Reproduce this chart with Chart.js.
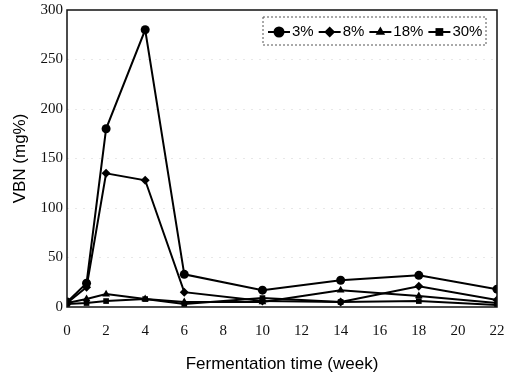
<!DOCTYPE html>
<html>
<head>
<meta charset="utf-8">
<script src="https://cdn.jsdelivr.net/npm/chart.js@4"></script>
<style>
  html, body { margin: 0; padding: 0; background: #fff; }
  #wrap { width: 508px; height: 379px; }
</style>
</head>
<body>
<div id="wrap"><canvas id="vbnChart" width="508" height="379"></canvas></div>
<script>
// weeks of fermentation
const weeks = [0, 1, 2, 4, 6, 10, 14, 18, 22];
// VBN (mg%) per salt level
const salt3 = [5, 24, 180, 280, 33, 17, 27, 32, 18];
const salt8 = [4, 20, 135, 128, 15, 6, 5, 21, 7];
const salt18 = [4, 8, 13, 8, 5, 5, 17, 11, 4];
const salt30 = [3, 4, 6, 8, 3, 9, 5, 6, 2];
const seriesNames = ["3%", "8%", "18%", "30%"];
const xTicks = [0, 2, 4, 6, 8, 10, 12, 14, 16, 18, 20, 22];
const yTicks = [0, 50, 100, 150, 200, 250, 300];

const estilos = ["circle", "rectRot", "triangle", "rect"];
const tamanhos = [4.5, 4.5, 4.5, 4];

function serie(valores, i) {
  return {
    label: seriesNames[i],
    data: weeks.map((w, k) => ({ x: w, y: valores[k] })),
    borderColor: "#000",
    backgroundColor: "#000",
    borderWidth: 2,
    pointStyle: estilos[i],
    pointRadius: tamanhos[i],
    pointBorderWidth: 0,
    tension: 0
  };
}

// frame around plot + dashed legend box
const moldura = {
  id: "moldura",
  afterDatasetsDraw(chart) {
    const { ctx, chartArea: a } = chart;
    ctx.save();
    ctx.strokeStyle = "#111";
    ctx.lineWidth = 1.5;
    ctx.strokeRect(a.left, a.top, a.right - a.left, a.bottom - a.top);

    // legend
    const bx = 263, by = 17, bw = 223, bh = 28;
    ctx.setLineDash([2, 2]);
    ctx.lineWidth = 1;
    ctx.strokeStyle = "#555";
    ctx.strokeRect(bx, by, bw, bh);
    ctx.setLineDash([]);
    ctx.font = "15px 'Liberation Sans', Arial, sans-serif";
    ctx.fillStyle = "#000";
    ctx.textBaseline = "middle";
    let x = bx + 5;
    const y = by + bh / 2 + 1;
    chart.data.datasets.forEach((ds) => {
      ctx.strokeStyle = "#000";
      ctx.lineWidth = 2;
      ctx.beginPath();
      ctx.moveTo(x, y);
      ctx.lineTo(x + 22, y);
      ctx.stroke();
      Chart.helpers.drawPoint(ctx, { pointStyle: ds.pointStyle, radius: 5.5, borderWidth: 0 }, x + 11, y);
      ctx.fillText(ds.label, x + 24, y);
      x += 24 + ctx.measureText(ds.label).width + 5;
    });
    ctx.restore();
  }
};

const ctx = document.getElementById("vbnChart").getContext("2d");
new Chart(ctx, {
  type: "line",
  data: { datasets: [serie(salt3, 0), serie(salt8, 1), serie(salt18, 2), serie(salt30, 3)] },
  options: {
    responsive: false,
    animation: false,
    layout: { padding: { top: 10, right: 11, left: 6, bottom: 0 } },
    plugins: { legend: { display: false }, tooltip: { enabled: false } },
    scales: {
      x: {
        type: "linear",
        min: 0,
        max: 22,
        afterBuildTicks: s => { s.ticks = xTicks.map(v => ({ value: v })); },
        afterFit: s => { s.height = 72; s.paddingLeft = 0; s.paddingRight = 0; },
        grid: { display: false, drawTicks: false },
        border: { display: false },
        ticks: {
          color: "#111",
          padding: 15,
          maxRotation: 0,
          font: { family: "'Liberation Serif', 'Times New Roman', serif", size: 15 }
        },
        title: {
          display: true,
          text: "Fermentation time (week)",
          color: "#000",
          padding: { top: 18 },
          font: { family: "'Liberation Sans', Arial, sans-serif", size: 17 }
        }
      },
      y: {
        min: 0,
        max: 300,
        afterBuildTicks: s => { s.ticks = yTicks.map(v => ({ value: v })); },
        afterFit: s => { s.width = 61; s.paddingTop = 0; s.paddingBottom = 0; },
        grid: {
          drawTicks: false,
          color: c => (c.tick.value === 0 || c.tick.value === 300) ? "rgba(0,0,0,0)" : "rgba(0,0,0,0.09)",
        },
        border: { display: false, dash: [2, 6] },
        ticks: {
          color: "#111",
          padding: 4,
          font: { family: "'Liberation Serif', 'Times New Roman', serif", size: 15 }
        },
        title: {
          display: true,
          text: "VBN (mg%)",
          color: "#000",
          padding: { bottom: 6 },
          font: { family: "'Liberation Sans', Arial, sans-serif", size: 17 }
        }
      }
    }
  },
  plugins: [moldura]
});
</script>
</body>
</html>
